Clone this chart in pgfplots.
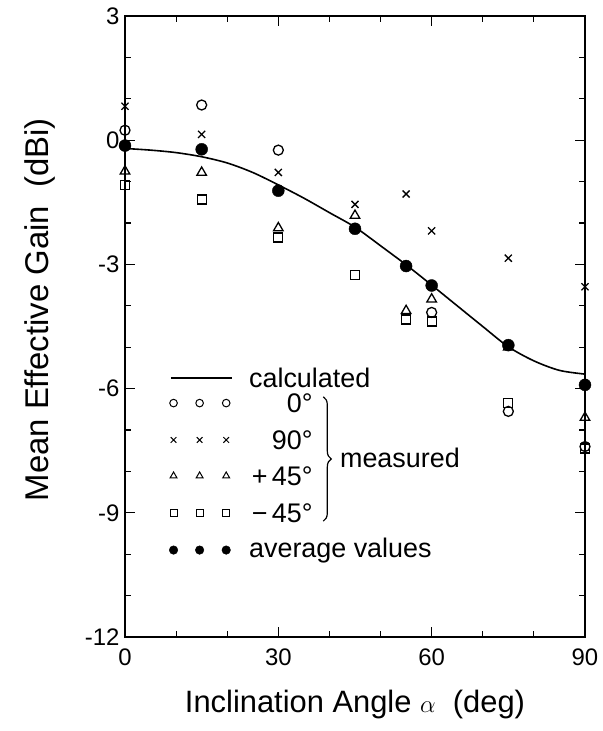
\documentclass[border=0pt]{standalone}
\usepackage{fontspec}
\setmainfont{Liberation Sans}
\usepackage{pgfplots}
\pgfplotsset{compat=1.18}
\usetikzlibrary{decorations.pathreplacing}

% measured mean effective gain per polarisation, and the calculated curve
\pgfplotstableread{
x   y
0   0.24
15  0.85
30  -0.24
60  -4.16
75  -6.55
90  -7.40
}\pzero
\pgfplotstableread{
x   y
0   0.82
15  0.14
30  -0.78
45  -1.55
55  -1.30
60  -2.19
75  -2.85
90  -3.54
}\pninety
\pgfplotstableread{
x   y
0   -0.75
15  -0.78
30  -2.12
45  -1.82
55  -4.12
60  -3.84
75  -5.00
90  -6.70
}\pplus
\pgfplotstableread{
x   y
0   -1.09
15  -1.43
30  -2.35
45  -3.26
55  -4.33
60  -4.38
75  -6.35
90  -7.45
}\pminus
\pgfplotstableread{
x   y
0   -0.13
15  -0.22
30  -1.22
45  -2.14
55  -3.04
60  -3.51
75  -4.95
90  -5.91
}\pavg
\pgfplotstableread{
x   y
0   -0.20
5   -0.24
10  -0.30
15  -0.40
20  -0.55
25  -0.78
30  -1.08
35  -1.40
40  -1.75
45  -2.10
50  -2.55
55  -3.01
60  -3.50
65  -4.00
70  -4.50
75  -4.99
80  -5.33
85  -5.56
90  -5.65
}\calc

\begin{document}
\begin{tikzpicture}
\begin{axis}[
  at={(0,0)}, anchor=south west,
  scale only axis, width=460bp, height=621bp,
  xmin=0, xmax=90, ymin=-12, ymax=3,
  xtick={0,30,60,90}, xticklabels={0,30,60,90},
  minor xtick={10,20,40,50,70,80},
  ytick={-12,-9,-6,-3,0,3}, yticklabels={-12,-9,-6,-3,0,3},
  minor ytick={-11,-10,-8,-7,-5,-4,-2,-1,1,2},
  tick align=inside,
  major tick length=10bp, minor tick length=6bp,
  axis line style={line width=1.6bp},
  every tick/.style={line width=1.2bp, black},
  tick label style={font=\fontsize{24}{24}\selectfont},
  xticklabel style={yshift=-8bp},
  yticklabel style={xshift=-2bp},
  clip=false,
  every axis x label/.style={at={(axis description cs:0.5,-0.1095)}, anchor=center},
  every axis y label/.style={at={(axis description cs:-0.185,0.527)}, anchor=center, rotate=90},
  xlabel={\fontsize{31}{31}\selectfont Inclination Angle $\alpha$\ \ (deg)},
  ylabel={\fontsize{33}{33}\selectfont Mean Effective Gain\ \ (dBi)},
]
% calculated curve
\addplot[black, line width=1.6bp, smooth, no markers] table {\calc};

% measured values
\addplot[only marks, mark=o, mark size=5bp, mark options={line width=1.3bp, black}] table {\pzero};
\addplot[only marks, mark=x, mark size=5bp, mark options={line width=1.3bp, black}] table {\pninety};
\addplot[only marks, mark=triangle, mark size=5.5bp, mark options={line width=1.3bp, black}] table {\pplus};
\addplot[only marks, mark=square, mark size=4.5bp, mark options={line width=1.3bp, black}] table {\pminus};
\addplot[only marks, mark=*, mark size=6bp, mark options={black, fill=black}] table {\pavg};

% key
\addplot[black, line width=1.4bp, no markers] coordinates {(9,-5.74) (21,-5.74)};
\addplot[only marks, mark=o, mark size=3.8bp, mark options={line width=1bp, black}] coordinates {(9.5,-6.35) (14.6,-6.35) (19.8,-6.35)};
\addplot[only marks, mark=x, mark size=4bp, mark options={line width=1bp, black}] coordinates {(9.5,-7.24) (14.6,-7.24) (19.8,-7.24)};
\addplot[only marks, mark=triangle, mark size=4bp, mark options={line width=1bp, black}] coordinates {(9.5,-8.11) (14.6,-8.11) (19.8,-8.11)};
\addplot[only marks, mark=square, mark size=3.5bp, mark options={line width=1bp, black}] coordinates {(9.5,-9.0) (14.6,-9.0) (19.8,-9.0)};
\addplot[only marks, mark=*, mark size=4.3bp, mark options={black, fill=black}] coordinates {(9.5,-9.9) (14.6,-9.9) (19.8,-9.9)};

\begin{scope}[font=\fontsize{27}{27}\selectfont]
\node[anchor=west] at (axis cs:23.6,-5.74) {calculated};
\node[anchor=east] at (axis cs:37.4,-6.35) {0°};
\node[anchor=east] at (axis cs:37.4,-7.24) {90°};
\node[anchor=east] at (axis cs:37.4,-8.11) {+\,45°};
\node[anchor=east] at (axis cs:37.4,-9.0) {−\,45°};
\node[anchor=west] at (axis cs:23.6,-9.9) {average values};
\draw[line width=1.2bp, decorate, decoration={brace, amplitude=8bp}]
  (axis cs:38.8,-6.2) -- (axis cs:38.8,-9.2);
\node[anchor=west] at (axis cs:41.4,-7.68) {measured};
\end{scope}
\end{axis}
\pgfresetboundingbox
\path (-125bp,-94bp) rectangle (478bp,637bp);
\end{tikzpicture}
\end{document}
